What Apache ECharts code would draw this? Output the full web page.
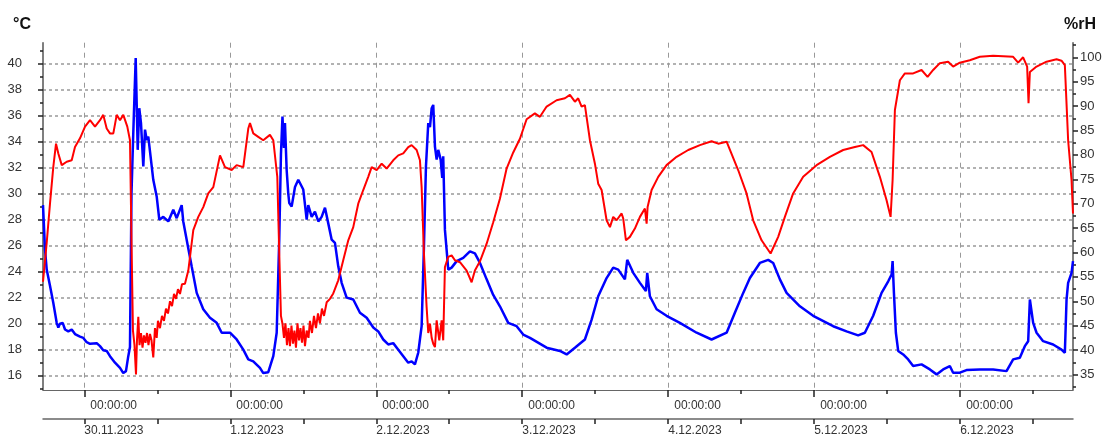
<!DOCTYPE html>
<html>
<head>
<meta charset="utf-8">
<script src="https://cdn.jsdelivr.net/npm/echarts@6/dist/echarts.min.js"></script>
<style>
html, body { margin: 0; padding: 0; background: #fff; }
#chart { width: 1107px; height: 439px; }
</style>
</head>
<body>
<div id="chart"></div>
<script>
// time in hours counted from 30.11.2023 00:00:00
var tempHours = [-6.79,-6.46,-6.18,-5.64,-5.10,-4.54,-4.27,-3.99,-3.55,-3.17,-2.63,-2.07,-1.53,-0.71,-0.16,0.39,0.94,2.04,2.58,3.12,3.68,4.22,5.05,5.87,6.41,6.85,7.23,7.51,7.76,8.01,8.45,8.78,9.04,9.32,9.70,9.98,10.26,10.52,11.34,11.90,12.33,12.99,13.81,14.63,15.19,16.01,16.27,16.83,17.65,18.48,19.56,20.66,21.76,22.59,23.95,25.05,26.14,26.96,27.78,28.88,29.42,30.25,31.07,31.63,32.05,32.33,32.58,32.83,32.99,33.27,33.53,33.70,34.09,34.64,35.18,35.46,36.00,36.56,36.82,37.38,37.92,38.47,39.02,39.57,40.11,40.67,41.21,41.75,42.31,43.13,44.22,45.32,46.42,47.51,48.33,49.15,49.97,50.79,51.62,52.44,53.26,53.82,54.36,54.90,55.46,55.84,56.17,56.55,56.83,57.11,57.37,57.65,57.93,58.19,58.59,58.85,59.01,59.29,59.84,60.39,61.22,62.30,63.40,64.22,65.05,66.15,67.23,68.33,69.70,71.08,72.16,73.27,76.01,78.20,79.30,80.66,82.30,83.41,84.49,85.87,86.96,87.78,88.88,89.26,90.25,91.35,92.33,92.55,92.99,94.09,95.73,97.92,100.67,103.13,105.60,106.96,108.33,109.43,111.07,112.44,113.26,114.36,115.46,117.65,119.83,123.12,125.32,127.23,128.33,129.70,131.08,132.17,132.73,132.89,133.11,133.43,133.81,134.63,135.45,136.27,137.65,139.02,140.12,141.20,142.30,142.84,143.94,145.04,147.23,149.42,151.62,152.71,153.81,154.63,155.18,155.46,156.00,156.56,157.64,159.28,160.66,161.21,161.49,161.75,162.31,162.55];
var tempValues = [29.1,25.7,24.15,22.9,21.6,20.06,19.7,20.0,20.06,19.55,19.4,19.55,19.2,19.0,18.9,18.57,18.45,18.5,18.27,17.96,17.9,17.5,17.0,16.6,16.2,16.35,17.5,18.2,30.0,34.0,40.4,33.35,36.55,35.4,32.07,34.9,34.1,34.37,31.05,29.77,27.98,28.2,27.85,28.75,28.1,29.1,27.85,26.45,24.4,22.36,21.1,20.45,20.06,19.3,19.3,18.78,18.0,17.25,17.1,16.6,16.2,16.27,17.5,19.3,26.45,33.0,35.9,33.5,35.4,31.8,30.0,29.26,29.0,30.5,31.05,31.05,30.3,27.98,29.1,28.2,28.6,27.85,28.2,28.9,27.7,26.45,26.2,24.4,23.13,22.0,21.85,20.83,20.45,19.7,19.4,18.78,18.4,18.5,18.0,17.5,17.0,17.1,16.87,17.76,19.8,25.9,32.07,35.4,35.1,36.55,36.8,33.6,32.6,33.35,32.6,31.2,32.85,27.2,24.15,24.3,24.8,25.05,25.55,25.4,24.66,23.4,22.2,21.33,20.06,19.8,19.16,18.9,18.15,17.9,17.63,18.15,18.78,20.3,22.1,23.5,24.3,24.15,23.4,24.9,23.9,23.13,22.5,23.9,22.1,21.1,20.6,20.06,19.3,18.78,19.3,20.83,22.36,23.5,24.66,24.9,24.66,23.4,22.36,21.33,20.6,19.8,19.4,19.1,19.3,20.6,22.36,23.25,23.77,24.8,22.36,19.3,17.9,17.63,17.25,16.74,16.87,16.48,16.1,16.48,16.74,16.23,16.23,16.43,16.48,16.48,16.35,17.25,17.38,18.27,18.65,21.85,20.06,19.3,18.65,18.4,18.0,17.76,21.85,23.13,23.9,24.8];

var rhHours = [-6.79,-6.18,-5.64,-5.10,-4.65,-4.27,-3.71,-2.89,-2.07,-1.53,-0.71,0.12,0.94,1.76,2.58,3.12,3.68,4.22,4.77,5.33,5.87,6.41,7.07,7.51,7.79,8.0,8.25,8.50,8.66,8.88,9.08,9.32,9.57,9.81,10.06,10.31,10.55,10.80,11.05,11.34,11.62,11.90,12.11,12.44,12.77,13.10,13.43,13.76,14.09,14.42,14.75,15.07,15.40,15.73,16.06,16.55,17.10,17.92,18.74,19.56,20.38,21.21,22.31,23.13,24.23,25.05,26.14,26.96,27.24,27.78,28.60,29.42,30.52,31.07,31.73,32.05,32.33,32.58,32.83,33.07,33.32,33.57,33.81,34.06,34.31,34.55,34.80,35.05,35.30,35.54,35.79,36.04,36.28,36.56,36.86,37.10,37.43,37.76,38.09,38.42,38.74,39.07,39.41,39.85,40.39,40.93,41.75,42.57,43.40,44.22,45.04,45.86,46.68,47.24,48.07,48.89,49.71,50.79,51.62,52.44,53.26,53.82,54.64,55.18,55.46,55.84,56.28,56.55,56.83,57.11,57.37,57.65,57.93,58.36,58.75,59.01,59.29,59.84,60.39,60.93,61.76,62.86,63.68,64.22,65.05,66.15,67.23,68.33,69.43,70.52,71.62,72.72,74.08,74.91,76.01,77.65,79.02,79.84,80.66,81.20,81.76,82.30,83.13,83.95,84.49,85.05,85.87,86.42,86.96,87.52,88.34,88.60,89.05,89.70,90.52,91.35,92.17,92.45,92.61,93.27,94.36,95.73,97.38,99.29,101.21,103.13,104.22,105.60,107.50,108.88,109.97,111.35,112.83,114.08,115.18,116.54,118.19,120.39,122.58,124.76,126.69,128.05,129.43,130.80,131.90,132.56,132.89,133.27,134.09,134.91,136.27,137.65,138.64,139.56,140.66,142.02,142.84,143.94,145.58,147.23,149.42,152.71,153.53,154.35,155.01,155.24,155.46,156.56,158.20,159.85,160.66,161.21,161.75,162.31,162.55];
var rhValues = [54,62,70,77.5,82.3,80.3,77.9,78.6,78.9,81.6,83.4,85.8,87.1,85.8,87.1,88.2,85.4,84.4,84.4,88.2,87.1,88.2,85.8,83.0,60,44,41,35,42,46.8,41,43.5,40.5,43,41.5,43.5,41,43.3,42,38.5,44.5,42.5,46,44.5,47,46,48.5,47.5,50,49,51.5,50.5,52.5,51.5,53.5,53.6,56.3,64.6,67.3,69.3,72.1,73.4,79.9,77.5,76.9,77.9,77.5,85.4,86.5,84.4,83.7,83.0,84.1,83.0,75.5,60,47,45.4,42.5,45.5,41.0,44.5,40.8,45,41.3,44,40.5,45.5,42,44.5,41.5,45,40.8,44,42.5,46,43.5,47,44.5,47.5,45.5,48.5,47,49.8,50.5,51.6,54.3,58.4,62.5,65.2,70.0,72.8,75.5,77.5,76.9,78.2,77.2,78.9,79.9,80.3,81.6,82.0,81.0,78.9,73.4,59.8,48.8,43.5,45.4,42.5,41.3,40.6,46.1,42.0,46.1,42.0,57.0,59.1,59.4,58.4,58.0,56.3,53.9,56.3,58.2,61.8,66.2,71.0,77.2,80.5,83.3,87.3,88.5,87.8,89.9,91.2,91.6,92.3,90.9,91.6,89.9,90.2,83.0,78.2,74.1,72.8,66.6,65.2,67.3,66.6,68.0,67.0,62.5,63.2,64.9,67.3,69.0,65.9,69.3,72.8,75.5,77.9,79.6,81.0,82.0,82.8,82.3,82.7,76.9,72.1,66.6,62.5,59.8,63.2,67.3,72.1,75.5,77.9,79.6,81.0,81.6,82.0,80.6,75.5,70.7,67.3,74.8,89.2,95.3,96.7,96.7,97.4,96.0,97.4,98.8,99.1,98.1,98.9,99.4,100.1,100.3,100.1,98.9,100.0,98.1,90.6,97.0,98.1,99.1,99.6,99.3,98.4,83.0,74.8,68.0];

var dayHours = [0, 24, 48, 72, 96, 120, 144];
var noonHours = [12, 36, 60, 84, 108, 132, 156];
var allHalfDays = [0, 12, 24, 36, 48, 60, 72, 84, 96, 108, 120, 132, 144, 156];
var dayLabels = ['30.11.2023', '1.12.2023', '2.12.2023', '3.12.2023', '4.12.2023', '5.12.2023', '6.12.2023'];
var tempTicks = [16, 18, 20, 22, 24, 26, 28, 30, 32, 34, 36, 38, 40];
var tempMinor = [15, 17, 19, 21, 23, 25, 27, 29, 31, 33, 35, 37, 39, 41];
var rhTicks = [35, 40, 45, 50, 55, 60, 65, 70, 75, 80, 85, 90, 95, 100];
var rhMinor = [32.5, 37.5, 42.5, 47.5, 52.5, 57.5, 62.5, 67.5, 72.5, 77.5, 82.5, 87.5, 92.5, 97.5, 102.5];

var X_MIN = -6.79, X_MAX = 162.55;
var FONT = "'Liberation Sans Narrow', 'Arial Narrow', 'Liberation Sans', Arial, sans-serif";

var tempData = tempHours.map(function (h, i) { return [h, tempValues[i]]; });
var rhData = rhHours.map(function (h, i) { return [h, rhValues[i]]; });

var chart = echarts.init(document.getElementById('chart'));

var option = {
    animation: false,
    backgroundColor: '#fff',
    title: [
        { text: '°C', left: 8, top: 12, textStyle: { fontSize: 16, fontWeight: 'bold', color: '#111', fontFamily: FONT } },
        { text: '%rH', right: 6, top: 12, textStyle: { fontSize: 16, fontWeight: 'bold', color: '#111', fontFamily: FONT } }
    ],
    grid: { left: 43, right: 34, top: 42.7, bottom: 49 },
    xAxis: [
        {
            type: 'value', min: X_MIN, max: X_MAX, position: 'bottom',
            axisLine: { show: true, onZero: false, lineStyle: { color: '#666', width: 1 } },
            axisTick: { show: true, customValues: dayHours, length: 7, lineStyle: { color: '#222', width: 1.5 } },
            axisLabel: {
                customValues: dayHours, align: 'left', padding: [0, 0, 0, 6], margin: 10,
                color: '#333', fontSize: 12, fontFamily: FONT,
                formatter: function () { return '00:00:00'; }
            },
            splitLine: { show: true, lineStyle: { color: '#999', type: [5, 5], width: 1 } }
        },
        {
            type: 'value', min: X_MIN, max: X_MAX, position: 'bottom',
            axisLine: { show: false, onZero: false },
            axisTick: { show: true, customValues: noonHours, length: 4, lineStyle: { color: '#222', width: 1.5 } },
            axisLabel: { show: false },
            splitLine: { show: false }
        },
        {
            type: 'value', min: X_MIN, max: X_MAX, position: 'bottom', offset: 29,
            axisLine: { show: true, onZero: false, lineStyle: { color: '#666', width: 1.5 } },
            axisTick: { show: true, customValues: allHalfDays, length: 5, lineStyle: { color: '#222', width: 1.5 } },
            axisLabel: {
                customValues: dayHours, align: 'left', margin: 6,
                color: '#333', fontSize: 12, fontFamily: FONT,
                formatter: function (v) { return dayLabels[Math.round(v / 24)]; }
            },
            splitLine: { show: false }
        }
    ],
    yAxis: [
        {
            type: 'value', position: 'left', min: 14.9, max: 41.58,
            axisLine: { show: true, onZero: false, lineStyle: { color: '#555', width: 1.5 } },
            axisTick: { show: true, customValues: tempTicks, length: 5, lineStyle: { color: '#222', width: 1.5 } },
            axisLabel: { customValues: tempTicks, margin: 21, color: '#333', fontSize: 13, fontFamily: FONT },
            splitLine: { show: true, lineStyle: { color: '#999', type: [3, 3], width: 1.5 } }
        },
        {
            type: 'value', position: 'right', min: 31.82, max: 102.99,
            axisLine: { show: true, onZero: false, lineStyle: { color: '#555', width: 1.5 } },
            axisTick: { show: true, customValues: rhTicks, length: 5, lineStyle: { color: '#222', width: 1.5 } },
            axisLabel: { customValues: rhTicks, margin: 7, color: '#333', fontSize: 13, fontFamily: FONT },
            splitLine: { show: false }
        },
        {
            type: 'value', position: 'left', min: 14.9, max: 41.58,
            axisLine: { show: false, onZero: false },
            axisTick: { show: true, customValues: tempMinor, length: 3, lineStyle: { color: '#222', width: 1.5 } },
            axisLabel: { show: false },
            splitLine: { show: false }
        },
        {
            type: 'value', position: 'right', min: 31.82, max: 102.99,
            axisLine: { show: false, onZero: false },
            axisTick: { show: true, customValues: rhMinor, length: 3, lineStyle: { color: '#222', width: 1.5 } },
            axisLabel: { show: false },
            splitLine: { show: false }
        }
    ],
    series: [
        {
            name: '°C', type: 'line', xAxisIndex: 0, yAxisIndex: 0,
            showSymbol: false, symbol: 'none',
            lineStyle: { color: '#0000ff', width: 2.5 },
            data: tempData
        },
        {
            name: '%rH', type: 'line', xAxisIndex: 0, yAxisIndex: 1,
            showSymbol: false, symbol: 'none',
            lineStyle: { color: '#ff0000', width: 2 },
            data: rhData
        }
    ]
};

chart.setOption(option);
</script>
</body>
</html>
